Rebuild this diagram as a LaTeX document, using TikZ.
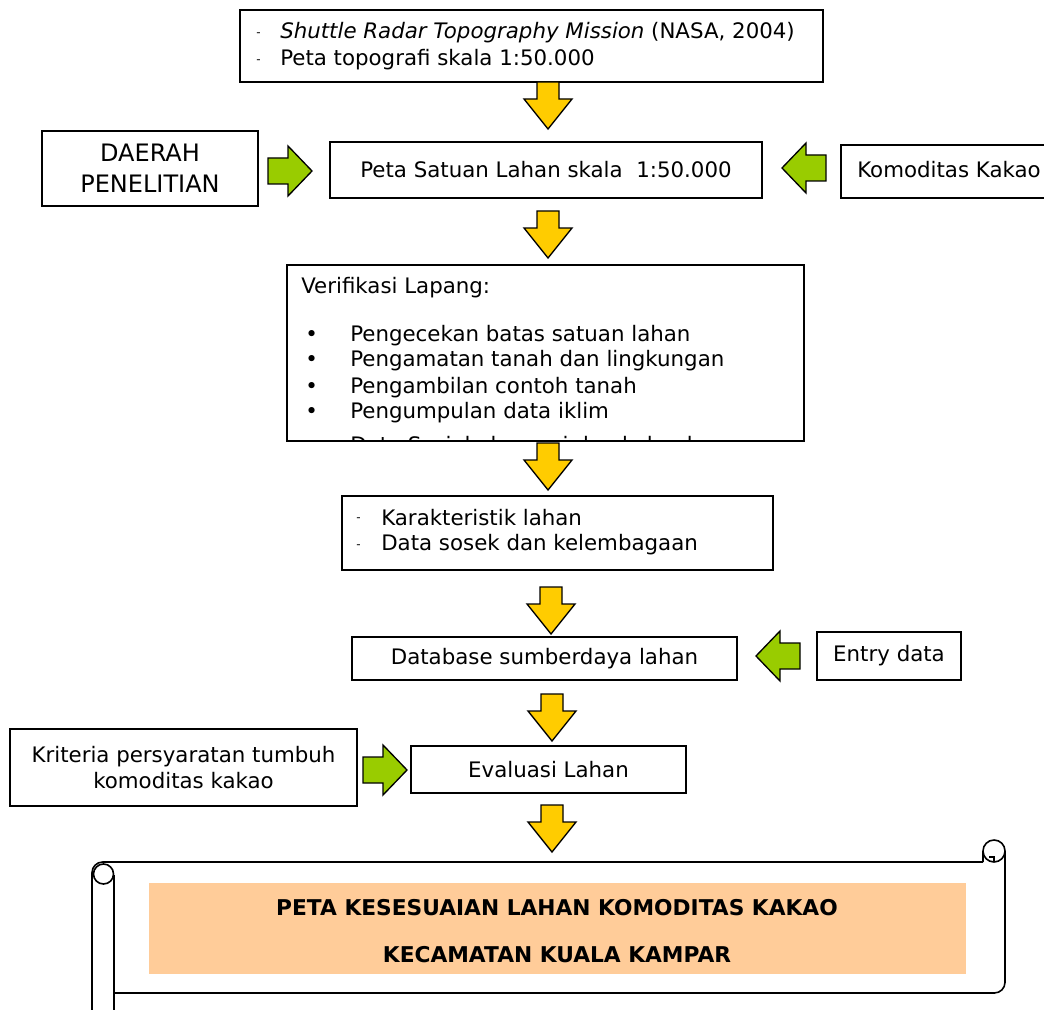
\documentclass[tikz,border=0pt]{standalone}
\usepackage{fontspec}
\setmainfont{DejaVu Sans}
\usetikzlibrary{calc}

\definecolor{flowyellow}{HTML}{FFCC00}
\definecolor{flowgreen}{HTML}{99CC00}
\definecolor{scrollpeach}{HTML}{FFCC99}

\newcommand{\basefont}{\fontsize{16}{19}\selectfont}
\newcommand{\bigfont}{\fontsize{18}{23.3}\selectfont}
\newcommand{\titlefont}{\fontsize{16.3}{19}\selectfont\bfseries}

% block arrows, placed by the middle of their back end
\newcommand{\yellowdown}[1]{\draw[blockarrow, fill=flowyellow] #1 ++(-11,0) -- ++(22,0) -- ++(0,17) -- ++(13,0) -- ++(-24,30) -- ++(-24,-30) -- ++(13,0) -- cycle;}
\newcommand{\greenright}[1]{\draw[blockarrow, fill=flowgreen] #1 ++(0,-13) -- ++(20,0) -- ++(0,-12) -- ++(24,25) -- ++(-24,25) -- ++(0,-12) -- ++(-20,0) -- cycle;}
\newcommand{\greenleft}[1]{\draw[blockarrow, fill=flowgreen] #1 ++(0,-13) -- ++(-20,0) -- ++(0,-12) -- ++(-24,25) -- ++(24,25) -- ++(0,-12) -- ++(20,0) -- cycle;}

\begin{document}
\begin{tikzpicture}[x=0.75pt, y=-0.75pt, font=\basefont,
  box/.style={draw, line width=1.3pt, inner sep=0pt},
  sz/.style 2 args={minimum width=0.75*#1pt, minimum height=0.75*#2pt},
  txt/.style={anchor=west, inner sep=0pt},
  lead/.style={anchor=west, inner sep=0pt, font=\small},
  blockarrow/.style={draw, line width=1pt, line join=miter},
  scrollline/.style={line width=1.2pt}]

\clip (0,0) rectangle (1044,1009);
\useasboundingbox (0,0) rectangle (1044,1009);

  \begin{scope}
% sources
\node[box, sz={583}{72}] (sources) at (531.5,46) {};
\node[lead] (srcdash1) at (256,35) {-};
\node[txt] (srctext1) at (280,33) {\textit{Shuttle Radar Topography Mission} (NASA, 2004)};
\node[lead] (srcdash2) at (256,62) {-};
\node[txt] (srctext2) at (280,60) {Peta topografi skala 1:50.000};

% land unit map and its inputs
\node[box, sz={216}{75}, align=center, font=\bigfont] (area) at (150,168.5) {DAERAH\\PENELITIAN};
\node[box, sz={432}{56}] (unitmap) at (546,170) {Peta Satuan Lahan skala\ \ 1:50.000};
\node[box, sz={230}{53}, anchor=west] (crop) at (840,171.5) {};
\node[txt] (croptext) at (857,170) {Komoditas Kakao};

% field check
\node[box, sz={517}{176}] (field) at (545.5,353) {};
\node[txt] (fieldhead) at (301,288) {Verifikasi Lapang:};
\node[txt] (bul1) at (305,336) {\textbullet};
\node[txt] (chk1) at (350,336) {Pengecekan batas satuan lahan};
\node[txt] (bul2) at (305,361) {\textbullet};
\node[txt] (chk2) at (350,361) {Pengamatan tanah dan lingkungan};
\node[txt] (bul3) at (305,388) {\textbullet};
\node[txt] (chk3) at (350,388) {Pengambilan contoh tanah};
\node[txt] (bul4) at (305,413) {\textbullet};
\node[txt] (chk4) at (350,413) {Pengumpulan data iklim};
\begin{scope}
\clip (287,265) rectangle (804,440);
\node[txt] (chk5) at (350,447) {Data Sosial ekonomi dan kelembagaan};
\end{scope}

% land characteristics
\node[box, sz={431}{74}] (charac) at (557.5,533) {};
\node[lead] (chrdash1) at (356,520) {-};
\node[txt] (chrtext1) at (381,518) {Karakteristik lahan};
\node[lead] (chrdash2) at (356,547) {-};
\node[txt] (chrtext2) at (381,545) {Data sosek dan kelembagaan};

% database
\node[box, sz={385}{43}] (database) at (544.5,658.5) {Database sumberdaya lahan};
\node[box, sz={144}{48}] (entry) at (889,656) {Entry data};

% evaluation
\node[box, sz={347}{77}, align=center] (criteria) at (183.5,767.5) {Kriteria persyaratan tumbuh\\komoditas kakao};
\node[box, sz={275}{47}] (evaluation) at (548.5,769.5) {Evaluasi Lahan};

% block arrows
\yellowdown{(548,82)}
\yellowdown{(548,211)}
\yellowdown{(548,443)}
\yellowdown{(551,587)}
\yellowdown{(552,694)}
\yellowdown{(552,805)}
\greenright{(268,171)}
\greenleft{(826,168)}
\greenleft{(800,656)}
\greenright{(363,770)}

% result scroll
\draw[scrollline, rounded corners=8pt] (92,1015) -- (92,862) -- (983,862);
\draw[scrollline] (114,875) -- (114,1015);
\draw[scrollline] (103.5,874) circle[radius=10];
\draw[scrollline, rounded corners=8pt] (114,993) -- (1005,993) -- (1005,851);
\draw[scrollline] (994,851) circle[radius=11];
\draw[scrollline] (983,851) -- (983,862);
\draw[scrollline] (989,857) -- (994,857) -- (994,862);
\node[fill=scrollpeach, inner sep=0pt, sz={817}{91}] (result) at (557.5,928.5) {};
\node[font=\titlefont] (resulttop) at (557,908) {PETA KESESUAIAN LAHAN KOMODITAS KAKAO};
\node[font=\titlefont] (resultbottom) at (557,955) {KECAMATAN KUALA KAMPAR};
\end{scope}

\end{tikzpicture}
\end{document}
